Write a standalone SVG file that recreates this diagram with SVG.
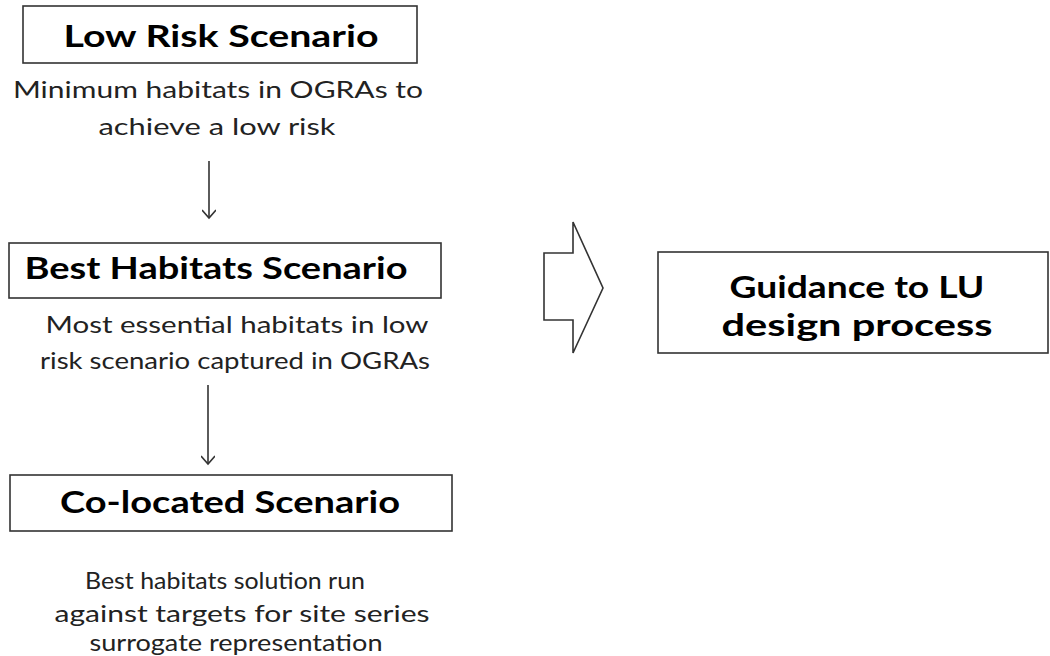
<svg xmlns="http://www.w3.org/2000/svg" width="1050" height="656" viewBox="0 0 1050 656">
<style>
.box{fill:#fff;stroke:#333;stroke-width:1.6}
.title{font-family:Lato,"Open Sans","Liberation Sans",sans-serif;font-weight:bold;font-size:30px;fill:#000;text-anchor:middle}
.desc{font-family:Lato,"Open Sans","Liberation Sans",sans-serif;font-size:23px;fill:#222;text-anchor:middle}
.conn{stroke:#333;stroke-width:1.6;fill:none}
</style>
<defs>
<marker id="ah" markerWidth="12" markerHeight="14" refX="10" refY="7" orient="auto" markerUnits="userSpaceOnUse" viewBox="0 0 12 14">
<path d="M2,0 L10,7 L2,14" fill="none" stroke="#333" stroke-width="1.6"/>
</marker>
</defs>
<rect width="1050" height="656" fill="#fff"/>
<g id="low-risk">
<rect class="box" x="23" y="6" width="394" height="57"/>
<text class="title" x="221" y="47" textLength="315" lengthAdjust="spacingAndGlyphs">Low Risk Scenario</text>
<text class="desc" x="218" y="98" textLength="410" lengthAdjust="spacingAndGlyphs">Minimum habitats in OGRAs to</text>
<text class="desc" x="217" y="135" textLength="237" lengthAdjust="spacingAndGlyphs">achieve a low risk</text>
</g>
<g id="best-habitats">
<rect class="box" x="9" y="243" width="432" height="55"/>
<text class="title" x="216" y="279" textLength="383" lengthAdjust="spacingAndGlyphs">Best Habitats Scenario</text>
<text class="desc" x="237" y="333" textLength="383" lengthAdjust="spacingAndGlyphs">Most essential habitats in low</text>
<text class="desc" x="235" y="369" textLength="390" lengthAdjust="spacingAndGlyphs">risk scenario captured in OGRAs</text>
</g>
<g id="co-located">
<rect class="box" x="10" y="475" width="442" height="56"/>
<text class="title" x="230" y="513" textLength="340" lengthAdjust="spacingAndGlyphs">Co-located Scenario</text>
<text class="desc" x="225" y="589" textLength="280" lengthAdjust="spacingAndGlyphs">Best habitats solution run</text>
<text class="desc" x="242" y="622" textLength="375" lengthAdjust="spacingAndGlyphs">against targets for site series</text>
<text class="desc" x="236" y="651" textLength="293" lengthAdjust="spacingAndGlyphs">surrogate representation</text>
</g>
<g id="guidance">
<rect class="box" x="658" y="252" width="390" height="101"/>
<text class="title" x="857" y="298" textLength="255" lengthAdjust="spacingAndGlyphs">Guidance to LU</text>
<text class="title" x="857" y="336" textLength="271" lengthAdjust="spacingAndGlyphs">design process</text>
</g>
<g id="connectors">
<line class="conn" x1="209" y1="161" x2="209" y2="218" marker-end="url(#ah)"/>
<line class="conn" x1="208" y1="385" x2="208" y2="464" marker-end="url(#ah)"/>
<path class="conn" d="M544,253 L573,253 L573,222 L603,288 L573,353 L573,320 L544,320 Z"/>
</g>
</svg>
